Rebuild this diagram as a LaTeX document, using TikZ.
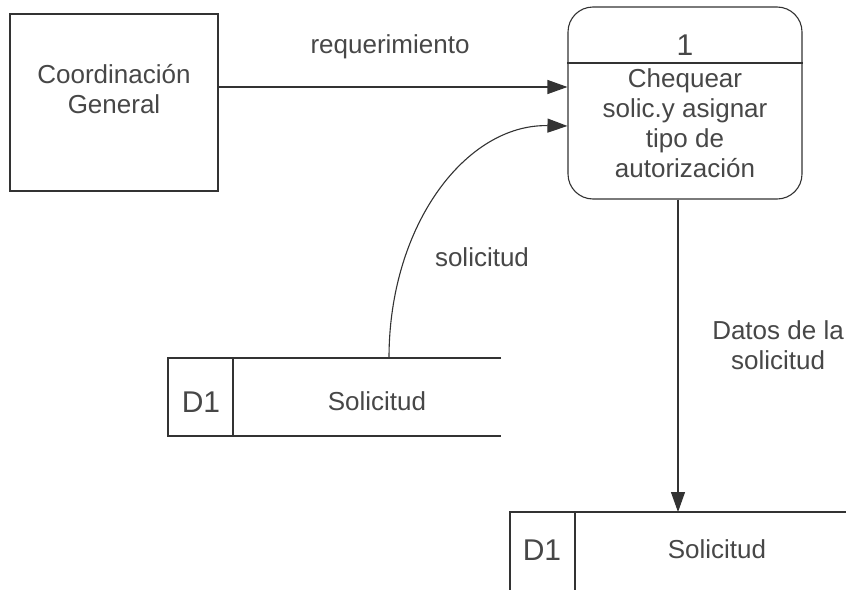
\documentclass[tikz,border=0pt]{standalone}
\usepackage{fontspec}
\setmainfont{Liberation Sans}
\usetikzlibrary{arrows.meta}
\begin{document}
\begin{tikzpicture}[x=1pt,y=-1pt,
  lbl/.style={font=\fontsize{26}{30}\selectfont, text=black!72, align=center, inner sep=0pt},
  big/.style={lbl, font=\fontsize{30}{34}\selectfont},
  ln/.style={line width=1.1pt, draw=black!80},
  flow/.style={ln, -{Triangle[length=20pt,width=14pt]}}]
\useasboundingbox[fill=white] (0,0) rectangle (850,589);
% external entity
\node[ln, draw, minimum width=208pt, minimum height=177pt, inner sep=0pt] (ext) at (114,102.5) {};
\node[lbl] (extlbl) at (114,89) {Coordinación\\General};
% process
\node[ln, draw, rounded corners=25pt, minimum width=234pt, minimum height=192pt, inner sep=0pt] (p) at (685,103) {};
\coordinate (div) at (0,63);
\draw[ln] (p.west |- div) -- (p.east |- div);
\node[big] (pnum) at (685,45) {1};
\node[lbl] (ptxt) at (685,123) {Chequear\\solic.y asignar\\tipo de\\autorización};
% store 1
\coordinate (s1tl) at (168,358);
\coordinate (s1bl) at (168,436);
\coordinate (s1td) at (233,358);
\coordinate (s1bd) at (233,436);
\coordinate (s1tr) at (501,358);
\coordinate (s1br) at (501,436);
\coordinate (s1top) at (389,358);
\draw[ln] (s1tr) -- (s1tl) -- (s1bl) -- (s1br);
\draw[ln] (s1td) -- (s1bd);
\node[big] (s1id) at (201,402) {D1};
\node[lbl] (s1name) at (377,401) {Solicitud};
% store 2
\coordinate (s2tl) at (510,512);
\coordinate (s2bl) at (510,590);
\coordinate (s2td) at (575,512);
\coordinate (s2bd) at (575,590);
\coordinate (s2tr) at (846,512);
\coordinate (s2top) at (678,512);
\draw[ln] (s2bl) -- (s2tl) -- (s2tr);
\draw[ln] (s2td) -- (s2bd);
\node[big] (s2id) at (542,550) {D1};
\node[lbl] (s2name) at (717,549) {Solicitud};
% flows
\coordinate (r1) at (0,87);
\draw[flow] (ext.east |- r1) -- (p.west |- r1);
\node[lbl] (lreq) at (390,47) {requerimiento};
\coordinate (r2) at (0,126);
\draw[flow] (s1top) .. controls (389,225) and (466,124) .. (p.west |- r2);
\node[lbl] (lsol) at (482,257) {solicitud};
\draw[flow] (p.south -| s2top) -- (s2top);
\node[lbl] (ldat) at (778,345) {Datos de la\\solicitud};
\end{tikzpicture}
\end{document}
